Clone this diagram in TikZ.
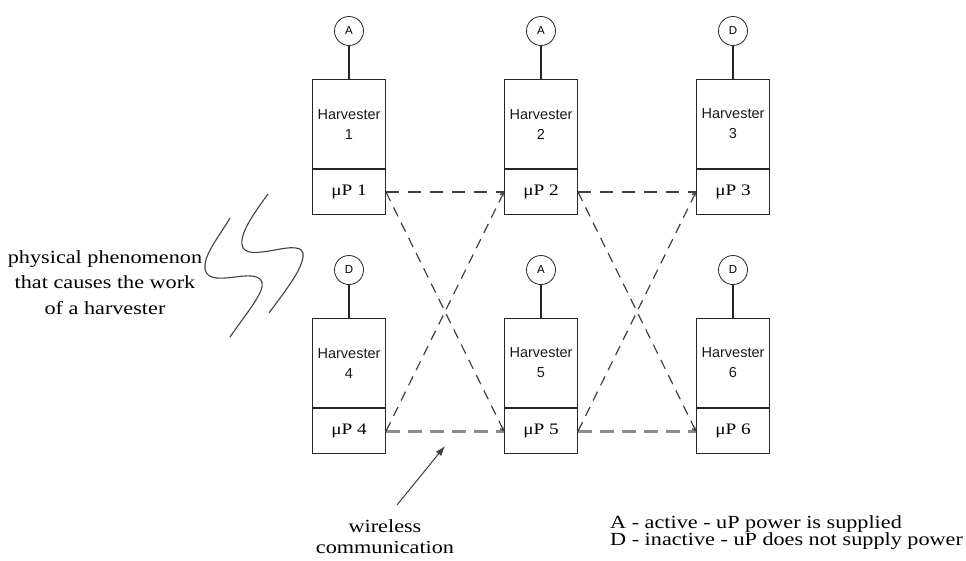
\documentclass[tikz,border=0pt]{standalone}
\usepackage{fontspec}
\setmainfont{Liberation Serif}[FakeStretch=1.2]
\setsansfont{Liberation Sans}
\usetikzlibrary{arrows.meta}

\begin{document}
\begin{tikzpicture}[x=1pt,y=-1pt,
  hbox/.style={draw=black!85,line width=1.1pt,minimum width=73pt,minimum height=89pt,
    inner sep=0pt,align=center,font=\sffamily\fontsize{14.5}{20}\selectfont,text=black!90},
  pbox/.style={draw=black!85,line width=1.1pt,minimum width=73pt,minimum height=45pt,
    inner sep=0pt,font=\fontsize{16}{18}\selectfont},
  state/.style={circle,draw=black!85,line width=0.8pt,minimum size=29pt,inner sep=0pt,
    font=\sffamily\fontsize{11.5}{12}\selectfont},
  stem/.style={line width=1.2pt,black!85},
  toprow/.style={dash pattern=on 13pt off 9pt,line width=1.5pt,black!75},
  botrow/.style={dash pattern=on 14pt off 8pt,line width=2.8pt,black!45},
  cross/.style={dash pattern=on 10pt off 7pt,line width=1.2pt,black!75,
    -{Straight Barb[length=3pt,width=5pt]}},
  wave/.style={line width=1.1pt,black!75},
  caption/.style={font=\fontsize{18.5}{22}\selectfont,inner sep=0pt,anchor=base},
]
\useasboundingbox (0,0) rectangle (966,560);

% harvester units: box, microprocessor part, state circle
\foreach \i/\x/\y/\s in {1/349/79/A,2/541/79/A,3/733/79/D,4/349/318/D,5/541/318/A,6/733/318/D}{
  \node[hbox,anchor=north] (h\i) at (\x,\y) {Harvester\\\i};
  \node[pbox,anchor=north] (p\i) at (h\i.south) {μP \i};
  \node[state] (s\i) at ({\x},{\y-48}) {\s};
  \draw[stem] (s\i) -- (h\i);
}

% wireless links
\draw[toprow] (p1.east) -- (p2.west);
\draw[toprow] (p2.east) -- (p3.west);
\draw[botrow] (p4.east) -- (p5.west);
\draw[botrow] (p5.east) -- (p6.west);
\draw[cross] (p1.east) -- (p5.west);
\draw[cross] (p4.east) -- (p2.west);
\draw[cross] (p2.east) -- (p6.west);
\draw[cross] (p5.east) -- (p3.west);

% physical phenomenon (two wavy strokes)
\draw[wave] (230,218) .. controls (220,235) and (206,252) .. (205,265)
  .. controls (204,276) and (212,279) .. (225,278)
  .. controls (240,277) and (258,272) .. (262,282)
  .. controls (265,292) and (245,315) .. (230,337);
\draw[wave] (268,194) .. controls (255,212) and (240,232) .. (242,245)
  .. controls (244,255) and (258,253) .. (275,250)
  .. controls (290,247) and (305,245) .. (303,257)
  .. controls (301,272) and (282,295) .. (269,313);

\node[caption] (ph1) at (105,263) {physical phenomenon};
\node[caption] (ph2) at (105,288) {that causes the work};
\node[caption] (ph3) at (105,314) {of a harvester};

% wireless communication pointer
\node[caption] (wl1) at (385,532) {wireless};
\node[caption] (wl2) at (385,553) {communication};
\coordinate (wtail) at (397,505);
\coordinate (whead) at (445,446);
\draw[line width=1pt,black!75,-{Latex[length=10pt,width=7pt]}] (wtail) -- (whead);

% legend
\node[caption,anchor=base west] (legA) at (610,528) {A - active - uP power is supplied};
\node[caption,anchor=base west] (legD) at (610,545) {D - inactive - uP does not supply power};
\end{tikzpicture}
\end{document}
